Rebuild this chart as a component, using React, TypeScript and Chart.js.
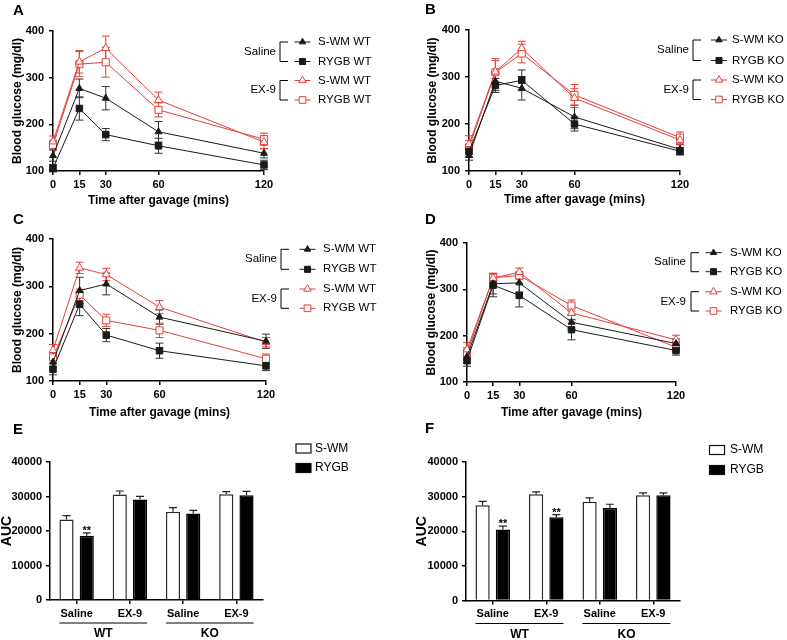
import React, { useEffect, useRef } from "react";
import { Chart, registerables } from "chart.js";
Chart.register(...registerables);

// ---------- data ----------
const TIMES = [0, 15, 30, 60, 120];
const X_TICKS = [0, 15, 30, 60, 120];
const GLUCOSE_TICKS = [100, 200, 300, 400];
const AUC_TICKS = [0, 10000, 20000, 30000, 40000];
const GROUP_LABELS = ["Saline", "EX-9"];
const BAR_CATEGORIES = ["Saline", "EX-9", "Saline", "EX-9"];
const GENOTYPES = ["WT", "KO"];
const BAR_SERIES = ["S-WM", "RYGB"];
const X_TITLE = "Time after gavage (mins)";
const Y_TITLE = "Blood glucose (mg/dl)";

// Panel A (WT)
const A_SAL_SWM = [133, 277, 256, 184, 138];
const A_SAL_SWM_ERR = [12, 20, 25, 22, 10];
const A_SAL_RYGB = [106, 234, 178, 154, 113];
const A_SAL_RYGB_ERR = [8, 25, 13, 16, 10];
const A_EX9_SWM = [163, 334, 363, 252, 162];
const A_EX9_SWM_ERR = [12, 24, 26, 17, 14];
const A_EX9_RYGB = [156, 329, 333, 231, 168];
const A_EX9_RYGB_ERR = [10, 27, 32, 15, 13];

// Panel B (KO)
const B_SAL_SWM = [133, 291, 276, 215, 146];
const B_SAL_SWM_ERR = [10, 20, 25, 25, 10];
const B_SAL_RYGB = [142, 282, 293, 200, 142];
const B_SAL_RYGB_ERR = [12, 15, 22, 15, 8];
const B_EX9_SWM = [157, 311, 361, 255, 166];
const B_EX9_SWM_ERR = [18, 28, 15, 20, 10];
const B_EX9_RYGB = [150, 310, 350, 262, 171];
const B_EX9_RYGB_ERR = [15, 25, 20, 22, 12];

// Panel C (WT)
const C_SAL_SWM = [140, 291, 305, 235, 184];
const C_SAL_SWM_ERR = [12, 28, 23, 15, 15];
const C_SAL_RYGB = [125, 262, 197, 164, 132];
const C_SAL_RYGB_ERR = [12, 24, 14, 16, 10];
const C_EX9_SWM = [165, 339, 325, 256, 182];
const C_EX9_SWM_ERR = [12, 12, 13, 14, 10];
const C_EX9_RYGB = [150, 282, 228, 207, 147];
const C_EX9_RYGB_ERR = [12, 12, 13, 15, 10];

// Panel D (KO)
const D_SAL_SWM = [155, 312, 314, 229, 183];
const D_SAL_SWM_ERR = [15, 22, 20, 15, 10];
const D_SAL_RYGB = [146, 309, 287, 213, 168];
const D_SAL_RYGB_ERR = [12, 25, 25, 22, 10];
const D_EX9_SWM = [170, 324, 337, 249, 191];
const D_EX9_SWM_ERR = [15, 10, 9, 15, 10];
const D_EX9_RYGB = [162, 325, 330, 265, 175];
const D_EX9_RYGB_ERR = [12, 10, 8, 12, 10];

// Panel E (AUC)
const E_SWM = [23300, 30600, 25600, 30650];
const E_SWM_ERR = [1150, 1000, 1150, 750];
const E_RYGB = [18600, 29100, 25050, 30350];
const E_RYGB_ERR = [850, 950, 950, 1150];
const E_SIG = ["**", "", "", ""];

// Panel F (AUC)
const F_SWM = [27500, 30700, 28500, 30400];
const F_SWM_ERR = [1150, 670, 1150, 670];
const F_RYGB = [20500, 24050, 26750, 30400];
const F_RYGB_ERR = [960, 770, 1050, 670];
const F_SIG = ["**", "**", "", ""];

// ---------- styling ----------
const W = 787;
const H = 640;
const FONT = '"Liberation Sans", Arial, Helvetica, sans-serif';
const BLACK = "#1a1a1a";
const RED = "#e2403a";

const STY = [
  { color: BLACK, err: "#333", style: "triangle", radius: 4, fill: BLACK },
  { color: BLACK, err: "#333", style: "rect", radius: 4.6, fill: BLACK },
  { color: RED, err: RED, style: "triangle", radius: 4.6, fill: "#ffffff" },
  { color: RED, err: RED, style: "rect", radius: 5, fill: "#ffffff" },
];

function drawMarker(ctx: CanvasRenderingContext2D, style: string, x: number, y: number, r: number, fill: string, stroke: string) {
  ctx.beginPath();
  if (style === "triangle") {
    ctx.moveTo(x, y - r);
    ctx.lineTo(x + r * 0.866, y + r / 2);
    ctx.lineTo(x - r * 0.866, y + r / 2);
    ctx.closePath();
  } else {
    const s = r * Math.SQRT1_2;
    ctx.rect(x - s, y - s, 2 * s, 2 * s);
  }
  ctx.fillStyle = fill;
  ctx.fill();
  ctx.strokeStyle = stroke;
  ctx.lineWidth = 1;
  ctx.stroke();
}

function drawLetter(ctx: CanvasRenderingContext2D, letter: string, x: number, y: number) {
  ctx.save();
  ctx.fillStyle = "#000";
  ctx.font = `bold 15px ${FONT}`;
  ctx.textAlign = "left";
  ctx.textBaseline = "alphabetic";
  ctx.fillText(letter, x, y);
  ctx.restore();
}

type Box = { l: number; r: number; t: number; b: number };
type Series = { label: string; values: number[]; err: number[] };
type LinePanel = {
  letter: string;
  letterPos: [number, number];
  plot: Box;
  yTitleX: number;
  xTitleY: number;
  series: Series[];
  legend: { bx: number; mx: number; tx: number; ys: number[]; labelRight: number };
};

type BarPanel = {
  letter: string;
  letterPos: [number, number];
  plot: Box;
  yTitleX: number;
  swm: number[];
  swmErr: number[];
  rygb: number[];
  rygbErr: number[];
  sig: string[];
  legend: { bx: number; ys: number[]; tx: number };
};

const axisGrid = { display: true, drawOnChartArea: false, drawTicks: true, tickLength: 4, color: "#000", lineWidth: 1.5 };
const axisBorder = { display: true, color: "#000", width: 1.5 };
const tickFont = { family: FONT, size: 11, weight: "bold" as const };

function linePlugin(p: LinePanel) {
  return {
    id: "linePanel" + p.letter,
    beforeDatasetsDraw(chart: any) {
      const { ctx } = chart;
      const xs = chart.scales.x;
      const ys = chart.scales.y;
      ctx.save();
      p.series.forEach((s, i) => {
        ctx.strokeStyle = STY[i].err;
        ctx.lineWidth = 1;
        TIMES.forEach((t, j) => {
          const px = xs.getPixelForValue(t);
          const top = ys.getPixelForValue(s.values[j] + s.err[j]);
          const bot = ys.getPixelForValue(s.values[j] - s.err[j]);
          ctx.beginPath();
          ctx.moveTo(px, top);
          ctx.lineTo(px, bot);
          ctx.moveTo(px - 4, top);
          ctx.lineTo(px + 4, top);
          ctx.moveTo(px - 4, bot);
          ctx.lineTo(px + 4, bot);
          ctx.stroke();
        });
      });
      ctx.restore();
    },
    afterDraw(chart: any) {
      const { ctx } = chart;
      drawLetter(ctx, p.letter, p.letterPos[0], p.letterPos[1]);
      const L = p.legend;
      ctx.save();
      ctx.strokeStyle = "#000";
      ctx.lineWidth = 1;
      for (let g = 0; g < 2; g++) {
        const y1 = L.ys[g * 2];
        const y2 = L.ys[g * 2 + 1];
        ctx.beginPath();
        ctx.moveTo(L.bx + 8, y1);
        ctx.lineTo(L.bx, y1);
        ctx.lineTo(L.bx, y2);
        ctx.lineTo(L.bx + 8, y2);
        ctx.stroke();
        ctx.fillStyle = "#000";
        ctx.font = `11.5px ${FONT}`;
        ctx.textAlign = "right";
        ctx.textBaseline = "middle";
        ctx.fillText(GROUP_LABELS[g], L.labelRight, (y1 + y2) / 2);
      }
      p.series.forEach((s, i) => {
        const y = L.ys[i];
        ctx.strokeStyle = STY[i].color;
        ctx.lineWidth = 1;
        ctx.beginPath();
        ctx.moveTo(L.mx - 8, y);
        ctx.lineTo(L.mx + 8, y);
        ctx.stroke();
        drawMarker(ctx, STY[i].style, L.mx, y, STY[i].radius - 0.3, STY[i].fill, STY[i].color);
        ctx.fillStyle = "#000";
        ctx.font = `11.5px ${FONT}`;
        ctx.textAlign = "left";
        ctx.textBaseline = "middle";
        ctx.fillText(s.label, L.tx, y);
      });
      ctx.restore();
    },
  };
}

function lineConfig(p: LinePanel): any {
  const yLeft = p.yTitleX - 7.2;
  const xBottom = p.xTitleY + 7.2;
  return {
    type: "line",
    data: {
      datasets: p.series.map((s, i) => ({
        label: s.label,
        data: TIMES.map((t, j) => ({ x: t, y: s.values[j] })),
        borderColor: STY[i].color,
        backgroundColor: STY[i].fill,
        pointStyle: STY[i].style,
        pointRadius: STY[i].radius,
        pointBackgroundColor: STY[i].fill,
        pointBorderColor: STY[i].color,
        pointBorderWidth: 1,
        borderWidth: 1,
        tension: 0,
        clip: false,
      })),
    },
    options: {
      responsive: false,
      animation: false,
      devicePixelRatio: 1,
      events: [],
      layout: { padding: { left: yLeft, top: p.plot.t, right: W - p.plot.r, bottom: H - xBottom } },
      plugins: { legend: { display: false }, tooltip: { enabled: false } },
      scales: {
        x: {
          type: "linear",
          min: 0,
          max: 120,
          afterBuildTicks: (s: any) => {
            s.ticks = X_TICKS.map((v) => ({ value: v }));
          },
          afterFit: (s: any) => {
            s.height = xBottom - p.plot.b;
          },
          grid: axisGrid,
          border: axisBorder,
          ticks: { color: "#000", font: tickFont, padding: 3, maxRotation: 0, autoSkip: false, callback: (v: any) => String(v) },
          title: { display: true, text: X_TITLE, color: "#000", font: { family: FONT, size: 12, weight: "bold" }, padding: 0 },
        },
        y: {
          type: "linear",
          min: 100,
          max: 400,
          afterBuildTicks: (s: any) => {
            s.ticks = GLUCOSE_TICKS.map((v) => ({ value: v }));
          },
          afterFit: (s: any) => {
            s.width = p.plot.l - yLeft;
          },
          grid: axisGrid,
          border: axisBorder,
          ticks: { color: "#000", font: tickFont, padding: 5, callback: (v: any) => String(v) },
          title: { display: true, text: Y_TITLE, color: "#000", font: { family: FONT, size: 12, weight: "bold" }, padding: 0 },
        },
      },
    },
    plugins: [linePlugin(p)],
  };
}

function barPlugin(p: BarPanel) {
  return {
    id: "barPanel" + p.letter,
    afterDatasetsDraw(chart: any) {
      const { ctx } = chart;
      const ys = chart.scales.y;
      ctx.save();
      const sets = [
        { vals: p.swm, err: p.swmErr },
        { vals: p.rygb, err: p.rygbErr },
      ];
      sets.forEach((s, di) => {
        const meta = chart.getDatasetMeta(di);
        s.vals.forEach((v, j) => {
          const el = meta.data[j];
          const x = el.x;
          const top = ys.getPixelForValue(v);
          const eTop = ys.getPixelForValue(v + s.err[j]);
          ctx.strokeStyle = "#222";
          ctx.lineWidth = 1.2;
          ctx.beginPath();
          ctx.moveTo(x, top);
          ctx.lineTo(x, eTop);
          ctx.moveTo(x - 4, eTop);
          ctx.lineTo(x + 4, eTop);
          ctx.stroke();
          if (di === 1 && p.sig[j]) {
            ctx.fillStyle = "#000";
            ctx.font = `bold 11px ${FONT}`;
            ctx.textAlign = "center";
            ctx.textBaseline = "alphabetic";
            ctx.fillText(p.sig[j], x, eTop + 1);
          }
        });
      });
      ctx.restore();
    },
    afterDraw(chart: any) {
      const { ctx } = chart;
      drawLetter(ctx, p.letter, p.letterPos[0], p.letterPos[1]);
      const m0 = chart.getDatasetMeta(0);
      const m1 = chart.getDatasetMeta(1);
      ctx.save();
      GENOTYPES.forEach((g, gi) => {
        const a = m0.data[gi * 2];
        const b = m1.data[gi * 2 + 1];
        const left = a.x - a.width / 2;
        const right = b.x + b.width / 2;
        const ly = p.plot.b + 23;
        ctx.strokeStyle = "#000";
        ctx.lineWidth = 1;
        ctx.beginPath();
        ctx.moveTo(left, ly);
        ctx.lineTo(right, ly);
        ctx.stroke();
        ctx.fillStyle = "#000";
        ctx.font = `bold 12px ${FONT}`;
        ctx.textAlign = "center";
        ctx.textBaseline = "middle";
        ctx.fillText(g, (left + right) / 2, p.plot.b + 34);
      });
      const L = p.legend;
      BAR_SERIES.forEach((name, i) => {
        const y = L.ys[i];
        ctx.fillStyle = i === 0 ? "#fff" : "#000";
        ctx.fillRect(L.bx, y - 4.5, 15, 9);
        ctx.strokeStyle = "#111";
        ctx.lineWidth = 1.2;
        ctx.strokeRect(L.bx, y - 4.5, 15, 9);
        ctx.fillStyle = "#000";
        ctx.font = `12px ${FONT}`;
        ctx.textAlign = "left";
        ctx.textBaseline = "middle";
        ctx.fillText(name, L.tx, y);
      });
      ctx.restore();
    },
  };
}

function barConfig(p: BarPanel): any {
  const yLeft = p.yTitleX - 7;
  const xH = 30;
  return {
    type: "bar",
    data: {
      labels: BAR_CATEGORIES,
      datasets: [
        {
          label: BAR_SERIES[0],
          data: p.swm,
          backgroundColor: "#ffffff",
          borderColor: "#2a2a2a",
          borderWidth: 1.5,
          barPercentage: 0.7,
          categoryPercentage: 0.76,
        },
        {
          label: BAR_SERIES[1],
          data: p.rygb,
          backgroundColor: "#000000",
          borderColor: "#000000",
          borderWidth: 1.5,
          barPercentage: 0.7,
          categoryPercentage: 0.76,
        },
      ],
    },
    options: {
      responsive: false,
      animation: false,
      devicePixelRatio: 1,
      events: [],
      layout: { padding: { left: yLeft, top: p.plot.t, right: W - p.plot.r, bottom: H - p.plot.b - xH } },
      plugins: { legend: { display: false }, tooltip: { enabled: false } },
      scales: {
        x: {
          type: "category",
          offset: true,
          afterFit: (s: any) => {
            s.height = xH;
          },
          grid: { ...axisGrid, offset: false },
          border: axisBorder,
          ticks: { color: "#000", font: tickFont, padding: 3, maxRotation: 0, autoSkip: false },
        },
        y: {
          type: "linear",
          min: 0,
          max: 40000,
          afterBuildTicks: (s: any) => {
            s.ticks = AUC_TICKS.map((v) => ({ value: v }));
          },
          afterFit: (s: any) => {
            s.width = p.plot.l - yLeft;
          },
          grid: axisGrid,
          border: axisBorder,
          ticks: { color: "#000", font: tickFont, padding: 4, callback: (v: any) => String(v) },
          title: { display: true, text: "AUC", color: "#000", font: { family: FONT, size: 14, weight: "bold", lineHeight: 1 }, padding: 0 },
        },
      },
    },
    plugins: [barPlugin(p)],
  };
}

const WT_LABELS = ["S-WM WT", "RYGB WT", "S-WM WT", "RYGB WT"];
const KO_LABELS = ["S-WM KO", "RYGB KO", "S-WM KO", "RYGB KO"];

const PANEL_A: LinePanel = {
  letter: "A",
  letterPos: [13, 15],
  plot: { l: 53, r: 264, t: 31, b: 171 },
  yTitleX: 18,
  xTitleY: 201,
  series: [
    { label: WT_LABELS[0], values: A_SAL_SWM, err: A_SAL_SWM_ERR },
    { label: WT_LABELS[1], values: A_SAL_RYGB, err: A_SAL_RYGB_ERR },
    { label: WT_LABELS[2], values: A_EX9_SWM, err: A_EX9_SWM_ERR },
    { label: WT_LABELS[3], values: A_EX9_RYGB, err: A_EX9_RYGB_ERR },
  ],
  legend: { bx: 280, mx: 302.5, tx: 318, ys: [42, 61.5, 80.5, 100], labelRight: 276 },
};

const PANEL_B: LinePanel = {
  letter: "B",
  letterPos: [425, 14],
  plot: { l: 469, r: 680, t: 30, b: 171 },
  yTitleX: 433,
  xTitleY: 200,
  series: [
    { label: KO_LABELS[0], values: B_SAL_SWM, err: B_SAL_SWM_ERR },
    { label: KO_LABELS[1], values: B_SAL_RYGB, err: B_SAL_RYGB_ERR },
    { label: KO_LABELS[2], values: B_EX9_SWM, err: B_EX9_SWM_ERR },
    { label: KO_LABELS[3], values: B_EX9_RYGB, err: B_EX9_RYGB_ERR },
  ],
  legend: { bx: 693, mx: 719, tx: 732, ys: [40, 60.5, 80, 99.5], labelRight: 689 },
};

const PANEL_C: LinePanel = {
  letter: "C",
  letterPos: [13, 224],
  plot: { l: 53, r: 266, t: 239, b: 381 },
  yTitleX: 18,
  xTitleY: 413,
  series: [
    { label: WT_LABELS[0], values: C_SAL_SWM, err: C_SAL_SWM_ERR },
    { label: WT_LABELS[1], values: C_SAL_RYGB, err: C_SAL_RYGB_ERR },
    { label: WT_LABELS[2], values: C_EX9_SWM, err: C_EX9_SWM_ERR },
    { label: WT_LABELS[3], values: C_EX9_RYGB, err: C_EX9_RYGB_ERR },
  ],
  legend: { bx: 281, mx: 307.5, tx: 323, ys: [249.3, 269.3, 289, 308.3], labelRight: 277 },
};

const PANEL_D: LinePanel = {
  letter: "D",
  letterPos: [425, 224],
  plot: { l: 467, r: 676, t: 243, b: 382 },
  yTitleX: 432,
  xTitleY: 413,
  series: [
    { label: KO_LABELS[0], values: D_SAL_SWM, err: D_SAL_SWM_ERR },
    { label: KO_LABELS[1], values: D_SAL_RYGB, err: D_SAL_RYGB_ERR },
    { label: KO_LABELS[2], values: D_EX9_SWM, err: D_EX9_SWM_ERR },
    { label: KO_LABELS[3], values: D_EX9_RYGB, err: D_EX9_RYGB_ERR },
  ],
  legend: { bx: 691, mx: 713.5, tx: 730, ys: [252.7, 271.7, 291.7, 311], labelRight: 686 },
};

const PANEL_E: BarPanel = {
  letter: "E",
  letterPos: [13, 434],
  plot: { l: 50, r: 263, t: 462, b: 600 },
  yTitleX: 7,
  swm: E_SWM,
  swmErr: E_SWM_ERR,
  rygb: E_RYGB,
  rygbErr: E_RYGB_ERR,
  sig: E_SIG,
  legend: { bx: 296, ys: [448.5, 468], tx: 315 },
};

const PANEL_F: BarPanel = {
  letter: "F",
  letterPos: [425, 433],
  plot: { l: 466, r: 680, t: 462, b: 600.5 },
  yTitleX: 422.5,
  swm: F_SWM,
  swmErr: F_SWM_ERR,
  rygb: F_RYGB,
  rygbErr: F_RYGB_ERR,
  sig: F_SIG,
  legend: { bx: 709.5, ys: [450, 470], tx: 730 },
};

function PanelCanvas({ config }: { config: () => any }) {
  const ref = useRef<HTMLCanvasElement | null>(null);
  useEffect(() => {
    if (!ref.current) return;
    const chart = new Chart(ref.current, config());
    return () => chart.destroy();
  }, []);
  return (
    <canvas
      ref={ref}
      width={W}
      height={H}
      style={{ position: "absolute", left: 0, top: 0, width: W, height: H }}
    />
  );
}

export default function App() {
  useEffect(() => {
    document.body.style.margin = "0";
    document.body.style.background = "#ffffff";
  }, []);
  return (
    <div style={{ position: "relative", width: W, height: H, background: "#ffffff", overflow: "hidden" }}>
      <PanelCanvas config={() => lineConfig(PANEL_A)} />
      <PanelCanvas config={() => lineConfig(PANEL_B)} />
      <PanelCanvas config={() => lineConfig(PANEL_C)} />
      <PanelCanvas config={() => lineConfig(PANEL_D)} />
      <PanelCanvas config={() => barConfig(PANEL_E)} />
      <PanelCanvas config={() => barConfig(PANEL_F)} />
    </div>
  );
}
